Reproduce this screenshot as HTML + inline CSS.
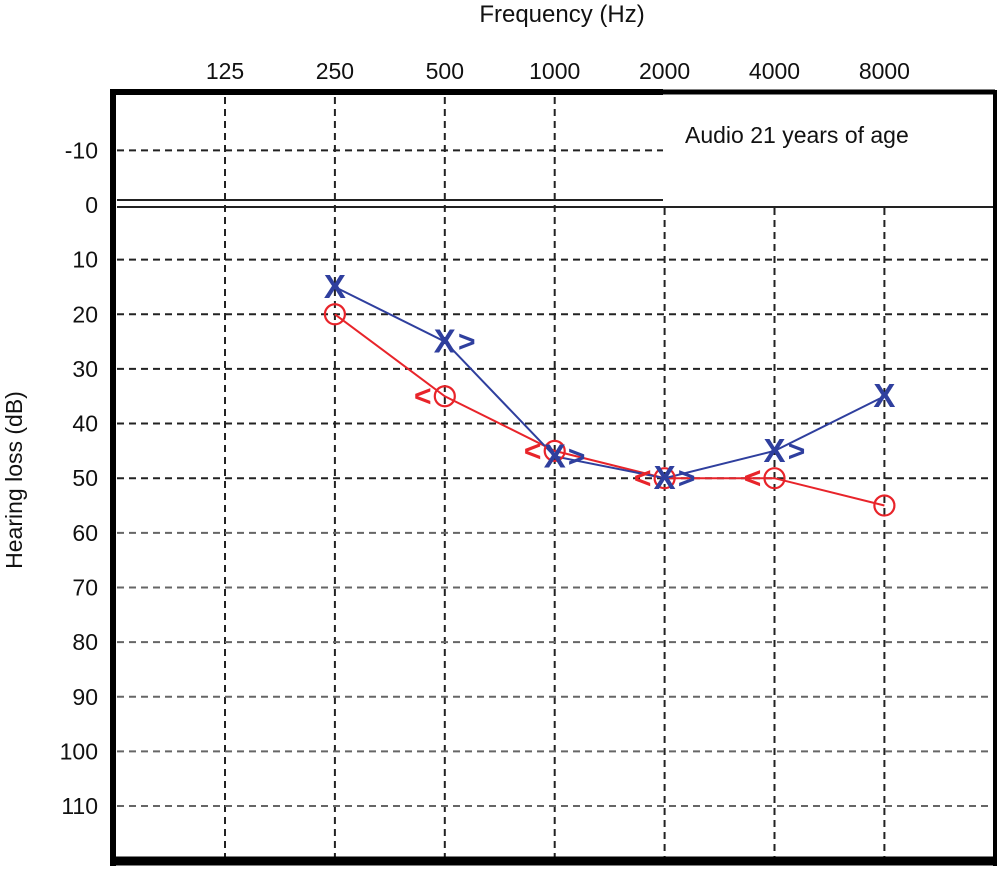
<!DOCTYPE html>
<html><head><meta charset="utf-8"><style>
html,body{margin:0;padding:0;background:#fff;}
svg{display:block;font-family:"Liberation Sans","DejaVu Sans",sans-serif;}
</style></head><body>
<svg id="chart" width="997" height="871" viewBox="0 0 997 871" xmlns="http://www.w3.org/2000/svg">
<text x="562" y="22" font-size="24" text-anchor="middle" fill="#111">Frequency (Hz)</text>
<g id="xticks"></g>
<g id="yticks"></g>
<text transform="translate(22,480) rotate(-90)" font-size="23" text-anchor="middle" fill="#111">Hearing loss (dB)</text>
<g id="grid"></g>
<g id="frame"></g>
<text x="685" y="143" font-size="23" fill="#111">Audio 21 years of age</text>
<g id="series"></g>
</svg>
<script>
const freqLabels = ["125","250","500","1000","2000","4000","8000"];
const dbTicks = [-10,0,10,20,30,40,50,60,70,80,90,100,110];
const rightFreqIdx = [1,2,3,4,5,6];
const rightEar = [20,35,45,50,50,55];
const leftFreqIdx = [1,2,3,4,5,6];
const leftEar = [15,25,46,50,45,35];
const rightMaskIdx = [2,3,4,5];
const leftMaskIdx = [2,3,4,5];

const NS="http://www.w3.org/2000/svg";
const X0=225, XSTEP=109.9, Y0=205, YPER=5.464;
function xs(i){return X0+i*XSTEP;}
function ys(db){return Y0+db*YPER;}
function mk(tag,attrs,parent){const e=document.createElementNS(NS,tag);for(const k in attrs)e.setAttribute(k,attrs[k]);parent.appendChild(e);return e;}
const xt=document.getElementById('xticks'), yt=document.getElementById('yticks'), grid=document.getElementById('grid'), frame=document.getElementById('frame'), ser=document.getElementById('series');

freqLabels.forEach((f,i)=>{
  const t=mk('text',{x:xs(i),y:79,'font-size':23,'text-anchor':'middle',fill:'#111'},xt);
  t.textContent=f;
  
  
  const top = i>=4 ? 208 : 97;
  const l=mk('line',{x1:xs(i),x2:xs(i),y1:top,y2:857,stroke:'#222','stroke-width':2,'stroke-dasharray':'7,5'},grid);
  
  
});
dbTicks.forEach(d=>{
  const t=mk('text',{x:98,y:ys(d)+8,'font-size':23,'text-anchor':'end',fill:'#111'},yt);
  t.textContent=String(d);
  
  
  if(d===0) return;
  const x2 = d<0 ? 663 : 993;
  const l=mk('line',{x1:117,x2:x2,y1:ys(d),y2:ys(d),stroke:d>=60?'#666':'#222','stroke-width':2,'stroke-dasharray':'7,5'},grid);
  
  
});
let z1=mk('line',{x1:117,x2:663,y1:ys(0)-5,y2:ys(0)-5,stroke:'#222','stroke-width':2},grid);


let z2=mk('line',{x1:117,x2:995,y1:ys(0)+2,y2:ys(0)+2,stroke:'#222','stroke-width':2},grid);


[[113,90,113,866,6],[110,92,663,92,6],[663,92,995,92,5],[995,90,995,866,4],[110,861,997,861,9]].forEach((a,i)=>{
  const l=mk('line',{x1:a[0],y1:a[1],x2:a[2],y2:a[3],stroke:'#000','stroke-width':a[4]},frame);
  
  
});
function poly(idx,vals,color,name){
  const p=mk('polyline',{points:idx.map((i,k)=>xs(i)+','+ys(vals[k])).join(' '),fill:'none',stroke:color,'stroke-width':2},ser);
  
  
}
poly(rightFreqIdx,rightEar,'#e8242a','right-ear-line');
poly(leftFreqIdx,leftEar,'#2f3f9e','left-ear-line');
rightFreqIdx.forEach((i,k)=>{
  const c=mk('circle',{cx:xs(i),cy:ys(rightEar[k]),r:10,fill:'none',stroke:'#e8242a','stroke-width':2.2},ser);
  
  
});
rightMaskIdx.forEach(i=>{
  const k=rightFreqIdx.indexOf(i);
  const t=mk('text',{x:xs(i)-22,y:ys(rightEar[k])+10,'font-size':30,'font-weight':'bold','text-anchor':'middle',fill:'#e8242a'},ser);
  t.textContent='<';
  
  
});
leftFreqIdx.forEach((i,k)=>{
  const t=mk('text',{x:xs(i),y:ys(leftEar[k])+11,'font-size':33,'font-weight':'bold','text-anchor':'middle',fill:'#2f3f9e'},ser);
  t.textContent='X';
  
  
});
leftMaskIdx.forEach(i=>{
  const k=leftFreqIdx.indexOf(i);
  const t=mk('text',{x:xs(i)+22,y:ys(leftEar[k])+10,'font-size':30,'font-weight':'bold','text-anchor':'middle',fill:'#2f3f9e'},ser);
  t.textContent='>';
  
  
});
</script>
</body></html>
